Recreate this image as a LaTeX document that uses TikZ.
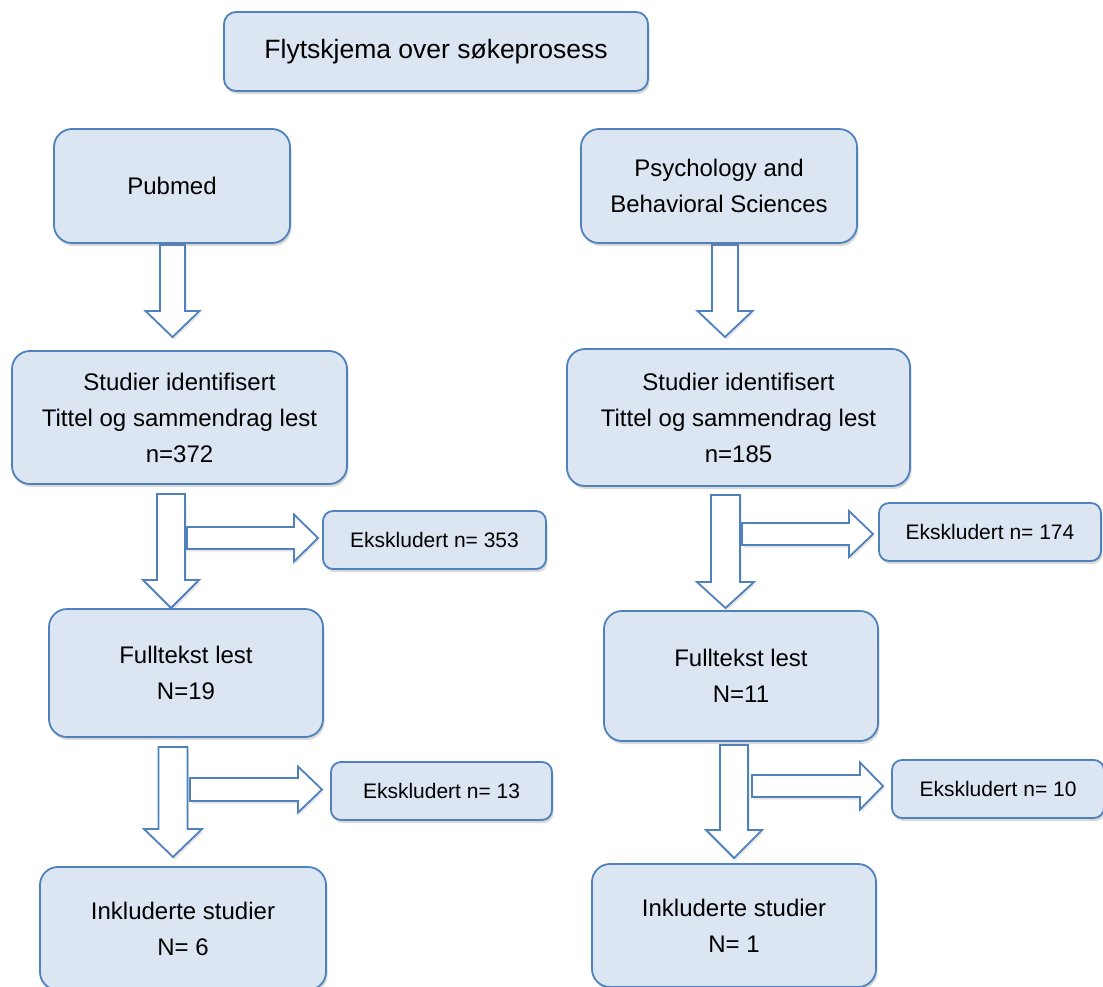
\documentclass[tikz,border=0pt]{standalone}
\usepackage{fontspec}
\setmainfont{Liberation Sans}
\usetikzlibrary{shadows}
\definecolor{boxfill}{HTML}{DCE6F2}
\definecolor{boxline}{HTML}{4F81BD}
\tikzset{
  flowbox/.style={draw=boxline, fill=boxfill, line width=1.8pt, align=center,
    inner sep=0pt, font=\fontsize{24}{36}\selectfont,
    drop shadow={shadow xshift=1.5pt, shadow yshift=-3pt, opacity=0.3}},
  bigbox/.style={flowbox, rounded corners=18pt},
  smallbox/.style={flowbox, rounded corners=10pt, font=\fontsize{21}{30}\selectfont},
  titlebox/.style={flowbox, rounded corners=12pt, font=\fontsize{26.5}{32}\selectfont},
  blockarrow/.style={draw=boxline, fill=white, line width=1.8pt, line join=miter,
    drop shadow={shadow xshift=1.5pt, shadow yshift=-2.5pt, opacity=0.2}}
}
% down block arrow: centre x, top y, wing y, tip y, shaft half width, head half width
\newcommand{\blockdown}[6]{%
  \path[blockarrow] (#1-#5,#2) -- (#1+#5,#2) -- (#1+#5,#3) -- (#1+#6,#3) -- (#1,#4)
    -- (#1-#6,#3) -- (#1-#5,#3) -- cycle;}
% right block arrow: left x, mid y, base x, tip x, shaft half height, head half height
\newcommand{\blockright}[6]{%
  \path[blockarrow] (#1,#2-#5) -- (#3,#2-#5) -- (#3,#2-#6) -- (#4,#2) -- (#3,#2+#6)
    -- (#3,#2+#5) -- (#1,#2+#5) -- cycle;}
\begin{document}
\begin{tikzpicture}[x=1pt,y=-1pt]
\useasboundingbox (0,0) rectangle (1103,986);

% arrows (drawn first)
\blockdown{172.5}{245}{311}{337}{12.5}{27}
\blockdown{725}{245}{311}{337}{13}{27.5}
\blockdown{171}{494}{580}{608}{14}{28}
\blockright{187}{538}{294}{318}{11}{23.5}
\blockdown{725.5}{495}{582}{608}{14.5}{28.5}
\blockright{742}{534}{849}{873}{11}{23}
\blockdown{173}{747}{829}{857}{14.5}{29}
\blockright{190}{789.5}{298}{322}{11.5}{23}
\blockdown{734}{745}{830}{858}{14}{28}
\blockright{752}{786}{860}{883}{11}{23.5}

% boxes
\node[titlebox, minimum width=424pt, minimum height=79pt] (title) at (436,51.5) {Flytskjema over søkeprosess};
\node[bigbox, minimum width=236pt, minimum height=114pt] (pub) at (172,186) {Pubmed};
\node[bigbox, minimum width=276pt, minimum height=114pt] (psy) at (719,186) {Psychology and\\Behavioral Sciences};
\node[bigbox, minimum width=335pt, minimum height=133pt] (stL) at (179.5,417.5) {Studier identifisert\\Tittel og sammendrag lest\\n=372};
\node[bigbox, minimum width=343pt, minimum height=137pt] (stR) at (738.5,417.5) {Studier identifisert\\Tittel og sammendrag lest\\n=185};
\node[smallbox, minimum width=223pt, minimum height=58pt] (eL1) at (434.5,540) {Ekskludert n= 353};
\node[smallbox, minimum width=222pt, minimum height=58pt] (eR1) at (990,532) {Ekskludert n= 174};
\node[bigbox, minimum width=274pt, minimum height=128pt] (fL) at (186,673) {Fulltekst lest\\N=19};
\node[bigbox, minimum width=274pt, minimum height=130pt] (fR) at (741,676) {Fulltekst lest\\N=11};
\node[smallbox, minimum width=221pt, minimum height=58pt] (eL2) at (441.5,791) {Ekskludert n= 13};
\node[smallbox, minimum width=212pt, minimum height=58pt] (eR2) at (998,789) {Ekskludert n= 10};
\node[bigbox, minimum width=286pt, minimum height=123pt] (iL) at (183,928.5) {Inkluderte studier\\N= 6};
\node[bigbox, minimum width=284pt, minimum height=123pt] (iR) at (734,925.5) {Inkluderte studier\\N= 1};
\end{tikzpicture}
\end{document}
